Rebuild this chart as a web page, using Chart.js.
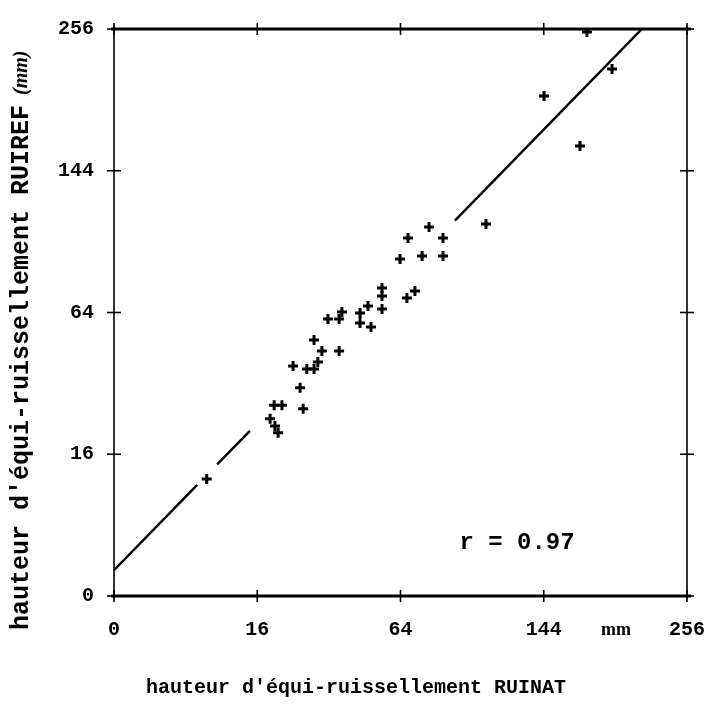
<!DOCTYPE html>
<html lang="fr">
<head>
<meta charset="UTF-8">
<title>RUIREF / RUINAT</title>
<style>
    html, body { margin: 0; padding: 0; background: #fff; }
    #wrap { width: 710px; height: 705px; }
</style>
</head>
<body>
<div id="wrap"><canvas id="chart" width="710" height="705"></canvas></div>
<script src="https://cdn.jsdelivr.net/npm/chart.js@4"></script>
<script>
// axis ticks (mm) on a square-root scale
const tickValues = [0, 16, 64, 144, 256];

// hauteur d'équi-ruissellement (mm)
const ruinat = [6.7, 19.0, 20.2, 21.0, 20.0, 22.0, 27.9, 27.0, 25.0, 29.0,
                31.2, 32.4, 33.7, 39.5, 31.2, 35.7, 39.5, 40.5, 47.2, 47.2,
                51.5, 50.3, 56.0, 56.0, 56.0, 66.9, 70.6, 63.8, 74.0, 84.4,
                67.4, 84.4, 77.4, 107.9, 169.3, 144.2, 193.4, 174.4];
const ruiref = [10.9, 25.0, 23.0, 21.2, 29.0, 29.0, 27.9, 34.5, 42.1, 41.0,
                41.0, 43.6, 47.8, 47.8, 52.2, 61.1, 61.1, 64.2, 63.8, 59.4,
                57.6, 67.0, 65.6, 71.7, 75.5, 70.7, 74.1, 90.4, 92.0, 92.0,
                102.0, 102.0, 108.4, 110.2, 161.3, 199.1, 221.2, 253.3];

// fitted line, in sqrt units: sqrt(RUIREF) = a + b * sqrt(RUINAT)
const fitIntercept = 0.73;
const fitSlope = 1.036;
// visible pieces of the line (RUINAT, mm)
const fitPieces = [[0, 5.4], [8.3, 14.4], [90.6, 217.3]];

const corr = 'r = 0.97';

const sq = Math.sqrt;
const mono = '"Liberation Mono", "Courier New", monospace';

function fitPiece(p) {
    return {
        type: 'line',
        order: 2,
        data: p.map(function(v) { return { x: sq(v), y: fitIntercept + fitSlope * sq(v) }; }),
        borderColor: '#000',
        borderWidth: 2.4,
        pointRadius: 0,
        fill: false
    };
}

const frame = {
    id: 'frame',
    afterDatasetsDraw(chart) {
        const ctx = chart.ctx;
        const a = chart.chartArea;
        const x = chart.scales.x, y = chart.scales.y;
        ctx.save();
        ctx.strokeStyle = '#000';

        function seg(x0, y0, x1, y1, w) {
            ctx.lineWidth = w;
            ctx.beginPath();
            ctx.moveTo(x0, y0);
            ctx.lineTo(x1, y1);
            ctx.stroke();
        }
        seg(a.left - 3, a.top, a.right + 4, a.top, 3);
        seg(a.left - 3, a.bottom, a.right + 4, a.bottom, 3);
        seg(a.left, a.top - 3, a.left, a.bottom + 3, 1.6);
        seg(a.right, a.top - 3, a.right, a.bottom + 3, 1.6);

        tickValues.forEach(function(t) {
            const px = x.getPixelForValue(sq(t));
            const py = y.getPixelForValue(sq(t));
            seg(px, a.bottom - 6, px, a.bottom + 6, 1.6);
            seg(px, a.top - 6, px, a.top + 6, 1.6);
            seg(a.left - 7, py, a.left + 7, py, 1.6);
            seg(a.right - 7, py, a.right + 7, py, 1.6);
        });

        ctx.fillStyle = '#000';
        ctx.textAlign = 'center';
        ctx.textBaseline = 'middle';

        ctx.font = 'bold 24px ' + mono;
        ctx.fillText(corr, 517, 543);

        ctx.font = 'bold 18px "Liberation Serif", serif';
        ctx.fillText('mm', 616, 630);

        ctx.font = 'bold 20px ' + mono;
        ctx.fillText("hauteur d'équi-ruissellement RUINAT", 356, 688);

        // y title: main text, then a smaller "(mm)"
        ctx.translate(22, 630);
        ctx.rotate(-Math.PI / 2);
        ctx.textAlign = 'left';
        ctx.font = 'bold 25px ' + mono;
        const main = "hauteur d'équi-ruissellement RUIREF";
        ctx.fillText(main, 0, 0);
        const w = ctx.measureText(main).width;
        ctx.font = 'italic bold 20px "Liberation Serif", serif';
        ctx.fillText('(mm)', w + 10, 0);
        ctx.restore();
    }
};

const scatter = {
    type: 'scatter',
    order: 1,
    data: ruinat.map(function(v, i) { return { x: sq(v), y: sq(ruiref[i]) }; }),
    pointStyle: 'cross',
    pointRadius: 5,
    pointBorderWidth: 3,
    borderColor: '#000',
    backgroundColor: '#000'
};

function axis(fit) {
    return {
        type: 'linear',
        min: 0,
        max: 16,
        grid: { display: false, drawTicks: false },
        border: { display: false },
        afterFit: fit,
        ticks: {
            stepSize: 4,
            padding: 20,
            color: '#000',
            font: { family: mono, size: 20, weight: 'bold' },
            callback: function(v) { return v * v; }
        }
    };
}

const xAxis = axis(function(s) {
    s.height = 109;
    s.paddingLeft = 0;
    s.paddingRight = 0;
});
xAxis.ticks.padding = 22;
const yAxis = axis(function(s) {
    s.width = 114;
    s.paddingTop = 0;
    s.paddingBottom = 0;
});

new Chart(document.getElementById('chart'), {
    data: {
        datasets: [scatter].concat(fitPieces.map(fitPiece))
    },
    options: {
        responsive: false,
        animation: false,
        layout: { padding: { top: 29, right: 23, left: 0, bottom: 0 } },
        plugins: { legend: { display: false }, tooltip: { enabled: false } },
        scales: { x: xAxis, y: yAxis }
    },
    plugins: [frame]
});
</script>
</body>
</html>
